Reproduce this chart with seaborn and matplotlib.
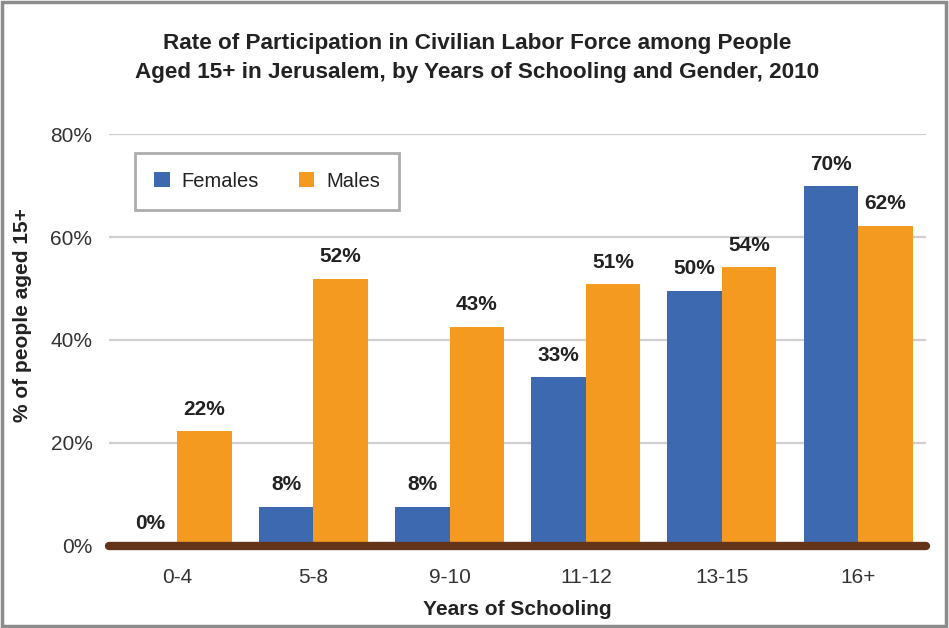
import matplotlib
matplotlib.use("Agg")
import matplotlib.pyplot as plt
import seaborn as sns
import pandas as pd
from matplotlib.patches import Rectangle

# data
schooling = ["0-4", "5-8", "9-10", "11-12", "13-15", "16+"]
females = [0.0, 7.6, 7.6, 32.8, 49.6, 69.9]
males = [22.3, 51.9, 42.6, 50.8, 54.1, 62.2]

df = pd.DataFrame({
    "Years": schooling * 2,
    "Gender": ["Females"] * len(schooling) + ["Males"] * len(schooling),
    "Value": females + males,
})

sns.set_style("white")
plt.rcParams["font.family"] = ["Liberation Sans", "DejaVu Sans"]

fig = plt.figure(figsize=(9.49, 6.28), dpi=100)
ax = fig.add_axes([0.115, 0.1306, 0.861, 0.656])

palette = {"Females": "#3D69B1", "Males": "#F59A21"}
sns.barplot(data=df, x="Years", y="Value", hue="Gender", palette=palette,
            order=schooling, hue_order=["Females", "Males"], width=0.8,
            saturation=1, linewidth=0, ax=ax, zorder=3)

ax.set_ylim(0, 80)
ax.set_xlim(-0.5, len(schooling) - 0.5)
ax.set_yticks([0, 20, 40, 60, 80])
ax.set_yticklabels([f"{t}%" for t in [0, 20, 40, 60, 80]])
ax.yaxis.grid(True, color="#cfcfcf", linewidth=1.6, zorder=0)
for s in ax.spines.values():
    s.set_visible(False)
ax.tick_params(axis="both", length=0, labelsize=15, colors="#333333")
ax.tick_params(axis="x", pad=16)
ax.tick_params(axis="y", pad=12)

# thick brown baseline
ax.axhline(0, color="#64341A", linewidth=6, solid_capstyle="round", zorder=5,
           clip_on=False)

# value labels
for cont in ax.containers:
    for bar in cont:
        h = bar.get_height()
        ax.annotate(f"{h:.0f}%", (bar.get_x() + bar.get_width() / 2, h),
                    xytext=(0, 9), textcoords="offset points",
                    ha="center", va="bottom", fontsize=15,
                    fontweight="bold", color="#222222")

ax.set_xlabel("Years of Schooling", fontsize=15, fontweight="bold",
              color="#222222", labelpad=9)
ax.set_ylabel("% of people aged 15+", fontsize=15, fontweight="bold",
              color="#222222")
ax.yaxis.set_label_coords(-0.095, 0.56)

leg = ax.legend(loc="upper left", bbox_to_anchor=(0.032, 0.955), ncol=2,
                fontsize=14.5, frameon=True, fancybox=False,
                handlelength=0.75, handleheight=0.75, handletextpad=0.6,
                columnspacing=2.0, borderpad=0.95, borderaxespad=0)
leg.get_frame().set_edgecolor("#999999")
leg.get_frame().set_linewidth(2)
for t in leg.get_texts():
    t.set_color("#222222")

fig.text(0.503, 0.908, "Rate of Participation in Civilian Labor Force among People\n"
         "Aged 15+ in Jerusalem, by Years of Schooling and Gender, 2010",
         ha="center", va="center", fontsize=16.2, fontweight="bold",
         color="#222222", linespacing=1.5)

fig.patches.append(Rectangle((0.002, 0.003), 0.995, 0.994,
                             transform=fig.transFigure, fill=False,
                             edgecolor="#8c8c8c", linewidth=2.5))

fig.savefig("out.png", dpi=100)
